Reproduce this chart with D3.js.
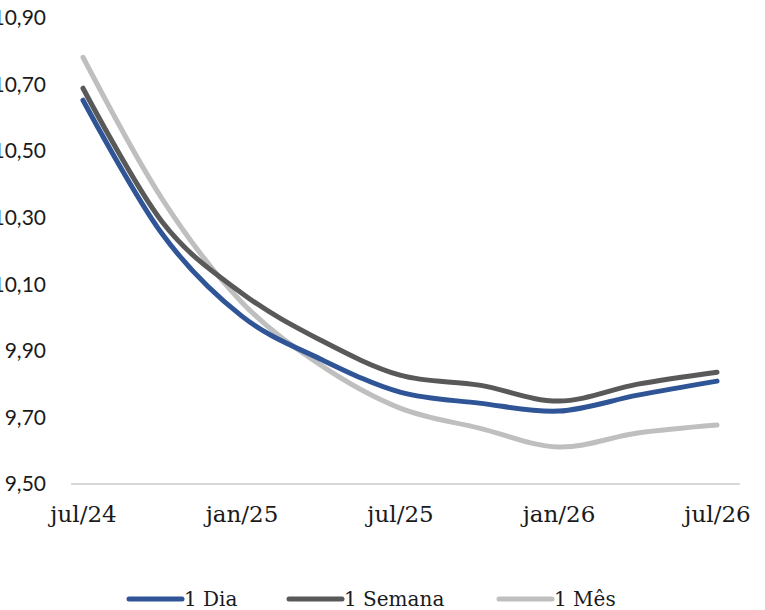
<!DOCTYPE html>
<html>
<head>
<meta charset="utf-8">
<script src="https://cdn.jsdelivr.net/npm/d3@7"></script>
<style>
    body { margin: 0; background: #fff; }
    .y-axis text { font-family: Lato, "Open Sans", sans-serif; font-size: 21px; fill: #1a1a1a; }
    .x-axis text { font-family: "DejaVu Serif", serif; font-size: 23px; fill: #1a1a1a; }
    .legend text { font-family: "DejaVu Serif", serif; font-size: 20px; fill: #1a1a1a; }
</style>
</head>
<body>
<div id="chart"></div>
<script>
// quarterly points, jul/24 .. jul/26
const months = ["jul/24", "out/24", "jan/25", "abr/25", "jul/25", "out/25", "jan/26", "abr/26", "jul/26"];
const xLabels = ["jul/24", "jan/25", "jul/25", "jan/26", "jul/26"];
const yTicks = [9.5, 9.7, 9.9, 10.1, 10.3, 10.5, 10.7, 10.9];

const umDia    = [10.653, 10.251, 10.005, 9.875, 9.776, 9.743, 9.719, 9.767, 9.809];
const umSemana = [10.689, 10.287, 10.074, 9.932, 9.827, 9.797, 9.749, 9.800, 9.836];
const umMes    = [10.782, 10.356, 10.047, 9.857, 9.728, 9.668, 9.611, 9.653, 9.677];

const seriesNames = ["1 Dia", "1 Semana", "1 Mês"];
const colors = ["#2f5597", "#595959", "#bfbfbf"];

const width = 765, height = 610;

const svg = d3.select("#chart").append("svg")
    .attr("width", width)
    .attr("height", height);

// Scales
const x = d3.scalePoint().domain(months).range([83, 717]);
const y = d3.scaleLinear().domain([9.5, 10.9]).range([484, 18]);

const br = d3.formatLocale({decimal: ",", thousands: ".", grouping: [3], currency: ["R$", ""]});
const fmt = br.format(".2f");

// Y axis (labels only)
svg.append("g")
    .attr("class", "y-axis")
    .attr("transform", "translate(46,0)")
    .call(d3.axisLeft(y).tickValues(yTicks).tickFormat(fmt).tickSize(0).tickPadding(0))
    .call(g => g.select(".domain").remove());

// baseline
svg.append("line")
    .attr("x1", 71).attr("x2", 740)
    .attr("y1", y(9.5)).attr("y2", y(9.5))
    .attr("stroke", "#d9d9d9")
    .attr("stroke-width", 2);

// X axis labels
svg.append("g")
    .attr("class", "x-axis")
    .attr("transform", `translate(0,${y(9.5)})`)
    .call(d3.axisBottom(x).tickValues(xLabels).tickSize(0).tickPadding(22))
    .call(g => g.select(".domain").remove());

// Lines
const line = d3.line()
    .x((d, i) => x(months[i]))
    .y(d => y(d))
    .curve(d3.curveCatmullRom.alpha(0));

// drawn light -> dark so the blue sits on top
[umMes, umSemana, umDia].forEach((s, k) => {
    const idx = 2 - k;
    svg.append("path")
        .datum(s)
        .attr("fill", "none")
        .attr("stroke", colors[idx])
        .attr("stroke-width", 5)
        .attr("stroke-linecap", "round")
        .attr("d", line);
});

// Legend
const legendX = [129, 289, 499];
const legend = svg.append("g").attr("class", "legend");
seriesNames.forEach((name, i) => {
    const g = legend.append("g").attr("transform", `translate(${legendX[i]},599)`);
    g.append("line")
        .attr("x1", 0).attr("x2", 53)
        .attr("stroke", colors[i])
        .attr("stroke-width", 5)
        .attr("stroke-linecap", "round");
    g.append("text")
        .attr("x", 55)
        .attr("dy", "0.35em")
        .text(name);
});
</script>
</body>
</html>
